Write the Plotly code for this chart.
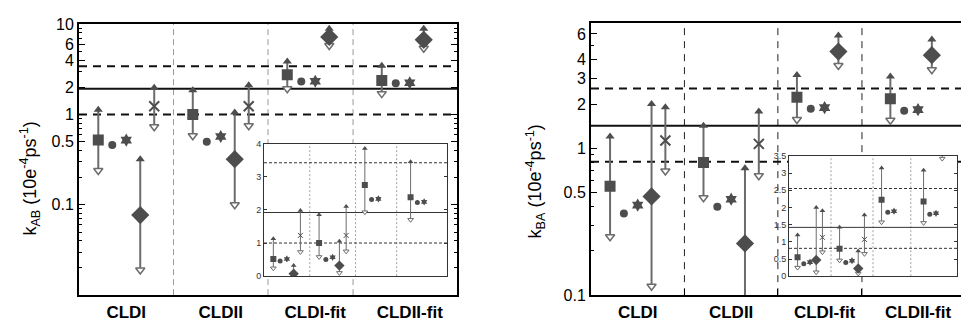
import math
import plotly.graph_objects as go

# ---------------------------------------------------------------- data
groups = ["CLDI", "CLDII", "CLDI-fit", "CLDII-fit"]
group_pos = [1, 2, 3, 4]
dividers = [1.5, 2.5, 3.4]

# k_AB in units of 1e-4 ps^-1 (one entry per group, None = not computed)
kab_square = [0.52, 1.00, 2.75, 2.38]
kab_square_hi = [1.13, 1.85, 3.85, 3.45]
kab_square_lo = [0.24, 0.58, 1.93, 1.70]
kab_circle = [0.46, 0.50, 2.31, 2.22]
kab_star = [0.52, 0.57, 2.33, 2.24]
kab_diamond = [0.077, 0.32, 7.2, 6.7]
kab_diamond_hi = [0.32, 1.05, 8.9, 8.9]
kab_diamond_lo = [0.019, 0.10, 5.8, 5.4]
kab_cross = [1.23, 1.23, None, None]
kab_cross_hi = [1.98, 2.10, None, None]
kab_cross_lo = [0.73, 0.75, None, None]
kab_ref = 1.92
kab_band = [1.0, 3.42]

# k_BA in units of 1e-4 ps^-1
kba_square = [0.55, 0.80, 2.22, 2.17]
kba_square_hi = [1.20, 1.42, 3.15, 3.08]
kba_square_lo = [0.25, 0.46, 1.57, 1.55]
kba_circle = [0.36, 0.40, 1.86, 1.80]
kba_star = [0.41, 0.45, 1.89, 1.83]
kba_diamond = [0.47, 0.225, 4.55, 4.30]
kba_diamond_hi = [2.00, 0.73, 5.85, 5.50]
kba_diamond_lo = [0.115, 0.08, 3.66, 3.42]
kba_cross = [1.13, 1.07, None, None]
kba_cross_hi = [1.90, 1.78, None, None]
kba_cross_lo = [0.70, 0.65, None, None]
kba_ref = 1.42
kba_band = [0.81, 2.55]

kab_ticks = [0.1, 0.5, 1, 2, 4, 6, 10]
kba_ticks = [0.1, 0.5, 1, 2, 3, 4, 6]

# ---------------------------------------------------------------- style
FONT = "Liberation Sans, Arial, Helvetica, sans-serif"
MARK = "#4d4d4d"
BAR = "#6c6c6c"
OFFSET = 0.148
slot = {"square": -2, "circle": -1, "star": 0, "diamond": 1, "cross": 2}

MAIN = dict(line_w=2, tri=8, tri_w=1.5, square=11, circle=8, star=10,
            diamond=14, cross=10, cross_w=2)
INSET = dict(line_w=1, tri=5, tri_w=1, square=6, circle=5, star=5.5,
             diamond=8, cross=5, cross_w=1)

W, H = 961, 325


def dom_x(a, b):
    return [a / W, min(b / W, 1.0)]


def dom_y(top, bottom):
    return [1 - bottom / H, 1 - top / H]


def xs_for(method):
    return [g + OFFSET * slot[method] for g in group_pos]


def present(xs, *cols):
    rows = [r for r in zip(xs, *cols) if r[1] is not None]
    return [list(c) for c in zip(*rows)]


fig = go.Figure()


def add_guides(xa, ya, xr, yr, ref, band, main, divider_color, divider_dash, log):
    lo, hi = (10 ** yr[0], 10 ** yr[1]) if log else (yr[0], yr[1])
    lw = 2 if main else 1
    dash = "8px,6px" if main else "3px,2px"
    common = dict(xaxis=xa, yaxis=ya, mode="lines", hoverinfo="skip", showlegend=False)
    dx, dy = [], []
    for d in dividers:
        dx += [d, d, None]
        dy += [lo, hi, None]
    fig.add_trace(go.Scatter(x=dx, y=dy, line=dict(color=divider_color,
                  width=1 if main else 0.8, dash=divider_dash), **common))
    fig.add_trace(go.Scatter(x=[xr[0], xr[1]], y=[ref, ref],
                  line=dict(color="#111" if main else "#333", width=lw), **common))
    bx, by = [], []
    for b in band:
        bx += [xr[0], xr[1], None]
        by += [b, b, None]
    fig.add_trace(go.Scatter(x=bx, y=by,
                  line=dict(color="#111" if main else "#333", width=lw, dash=dash), **common))


def add_errbar(xa, ya, method, val, lo, hi, st):
    x, v, l, h = present(xs_for(method), val, lo, hi)
    lx, ly = [], []
    for xi, li, hi_ in zip(x, l, h):
        lx += [xi, xi, None]
        ly += [li, hi_, None]
    common = dict(xaxis=xa, yaxis=ya, hoverinfo="skip", showlegend=False)
    fig.add_trace(go.Scatter(x=lx, y=ly, mode="lines",
                  line=dict(color=BAR, width=st["line_w"]), **common))
    fig.add_trace(go.Scatter(x=x, y=h, mode="markers",
                  marker=dict(symbol="triangle-up", size=st["tri"], color=MARK,
                              line=dict(width=0)), **common))
    fig.add_trace(go.Scatter(x=x, y=l, mode="markers",
                  marker=dict(symbol="triangle-down", size=st["tri"], color="white",
                              line=dict(color=BAR, width=st["tri_w"])), **common))


def add_points(xa, ya, method, val, st):
    x, v = present(xs_for(method), val)
    sym = {"square": "square", "circle": "circle", "star": "hexagram",
           "diamond": "diamond", "cross": "x-thin"}[method]
    if method == "cross":
        marker = dict(symbol=sym, size=st["cross"], color=MARK,
                      line=dict(color=MARK, width=st["cross_w"]))
    else:
        marker = dict(symbol=sym, size=st[method], color=MARK, line=dict(width=0))
    fig.add_trace(go.Scatter(x=x, y=v, mode="markers", marker=marker,
                             xaxis=xa, yaxis=ya, hoverinfo="skip", showlegend=False))


def add_panel(xa, ya, xr, yr, log, st, d, divider_color, divider_dash):
    main = st is MAIN
    add_guides(xa, ya, xr, yr, d["ref"], d["band"], main, divider_color, divider_dash, log)
    add_errbar(xa, ya, "square", d["square"], d["square_lo"], d["square_hi"], st)
    add_errbar(xa, ya, "diamond", d["diamond"], d["diamond_lo"], d["diamond_hi"], st)
    add_errbar(xa, ya, "cross", d["cross"], d["cross_lo"], d["cross_hi"], st)
    for m in ["square", "circle", "star", "diamond", "cross"]:
        add_points(xa, ya, m, d[m], st)


kab = dict(square=kab_square, square_hi=kab_square_hi, square_lo=kab_square_lo,
           circle=kab_circle, star=kab_star, diamond=kab_diamond,
           diamond_hi=kab_diamond_hi, diamond_lo=kab_diamond_lo,
           cross=kab_cross, cross_hi=kab_cross_hi, cross_lo=kab_cross_lo,
           ref=kab_ref, band=kab_band)
kba = dict(square=kba_square, square_hi=kba_square_hi, square_lo=kba_square_lo,
           circle=kba_circle, star=kba_star, diamond=kba_diamond,
           diamond_hi=kba_diamond_hi, diamond_lo=kba_diamond_lo,
           cross=kba_cross, cross_hi=kba_cross_hi, cross_lo=kba_cross_lo,
           ref=kba_ref, band=kba_band)

# axis ranges
x_main = [0.5, 4.5]
x_right = [0.5, 4.46]
x_inset = [0.5, 4.5]
y_kab = [-2, 1]
y_kba = [-1, math.log10(7.1)]
y_kab_in = [0, 4]
y_kba_in = [0, 3.5]

add_panel("x", "y", x_main, y_kab, True, MAIN, kab, "#9a9a9a", "6px,4px")
add_panel("x2", "y2", x_inset, y_kab_in, False, INSET, kab, "#8a8a8a", "2px,2px")
add_panel("x3", "y3", x_right, y_kba, True, MAIN, kba, "#222", "7px,6px")
add_panel("x4", "y4", x_inset, y_kba_in, False, INSET, kba, "#8a8a8a", "2px,2px")


def minor_log(lo_dec, hi_dec, major):
    vals = []
    for e in range(lo_dec, hi_dec):
        for m in range(1, 10):
            v = round(m * 10 ** e, 6)
            if v not in major:
                vals.append(v)
    return vals


def cat_axis(dom, rng, anchor, top_line=True):
    return dict(domain=dom, range=rng, anchor=anchor, showline=True, linewidth=2,
                linecolor="#000", mirror=top_line, tickmode="array",
                tickvals=group_pos, ticktext=groups, ticks="",
                tickfont=dict(family=FONT, size=17, color="#000", weight="bold"),
                showgrid=False, zeroline=False)


def log_axis(dom, rng, anchor, ticks, mirror):
    return dict(domain=dom, type="log", range=rng, anchor=anchor, showline=True,
                linewidth=2, linecolor="#000", mirror=mirror, ticks="inside",
                ticklen=6, tickwidth=1, tickcolor="#000", tickmode="array",
                tickvals=ticks, ticktext=[f"{t:g}" for t in ticks],
                minor=dict(tickmode="array",
                           tickvals=minor_log(int(math.floor(rng[0])), int(math.ceil(rng[1])), ticks),
                           ticks="inside", ticklen=3, tickcolor="#000", tickwidth=1),
                tickfont=dict(family=FONT, size=16, color="#000"),
                showgrid=False, zeroline=False)


def inset_x(dom, anchor):
    return dict(domain=dom, range=x_inset, anchor=anchor, showline=True, linewidth=1,
                linecolor="#333", mirror=True, showticklabels=False, ticks="",
                showgrid=False, zeroline=False)


def inset_y(dom, rng, dtick, anchor):
    return dict(domain=dom, range=rng, anchor=anchor, showline=True, linewidth=1,
                linecolor="#333", mirror="allticks", ticks="inside", ticklen=3,
                tickcolor="#333", dtick=dtick, tick0=0,
                tickfont=dict(family=FONT, size=9, color="#333"),
                showgrid=False, zeroline=False)


right_x = cat_axis(dom_x(591, 961), x_right, "y3")
right_x["minor"] = dict(tickmode="array", tickvals=dividers, ticks="inside",
                        ticklen=6, tickcolor="#000")

TITLE_FONT = dict(family=FONT, size=18, color="#000")

fig.update_layout(
    width=W, height=H, margin=dict(l=0, r=0, t=0, b=0),
    paper_bgcolor="white", plot_bgcolor="white",
    font=dict(family=FONT, color="#000"),
    xaxis=cat_axis(dom_x(79, 457), x_main, "y"),
    yaxis=log_axis(dom_y(17, 303), y_kab, "x", kab_ticks, "allticks"),
    xaxis2=inset_x(dom_x(264, 447), "y2"),
    yaxis2=inset_y(dom_y(143, 283), y_kab_in, 1, "x2"),
    xaxis3=right_x,
    yaxis3=log_axis(dom_y(16, 303), y_kba, "x3", kba_ticks, False),
    xaxis4=inset_x(dom_x(789, 957), "y4"),
    yaxis4=inset_y(dom_y(156, 283), y_kba_in, 0.5, "x4"),
    annotations=[
        dict(text="k<sub>AB</sub> (10e<sup>-4</sup>ps<sup>-1</sup>)", textangle=-90,
             x=30 / W, y=1 - 180 / H, xref="paper", yref="paper", showarrow=False,
             xanchor="center", yanchor="middle", font=TITLE_FONT),
        dict(text="k<sub>BA</sub> (10e<sup>-4</sup>ps<sup>-1</sup>)", textangle=-90,
             x=535 / W, y=1 - 183 / H, xref="paper", yref="paper", showarrow=False,
             xanchor="center", yanchor="middle", font=TITLE_FONT),
    ],
)

fig.write_html("out.html")
